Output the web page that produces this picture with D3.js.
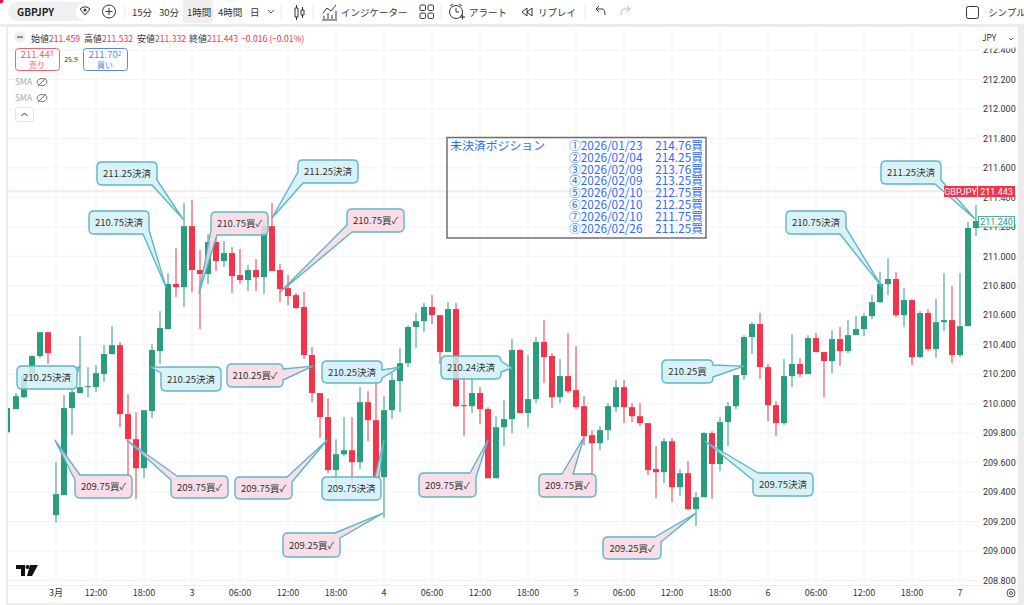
<!DOCTYPE html>
<html>
<head>
<meta charset="utf-8">
<script src="https://cdn.jsdelivr.net/npm/d3@7"></script>
<style>
  html, body { margin: 0; padding: 0; background: #fff; overflow: hidden; }
  text { font-family: "Noto Sans CJK JP", Roboto, sans-serif; }
</style>
</head>
<body>
<svg id="chart" width="1024" height="605"></svg>
<script>
'use strict';

// 1 hour candles
var opens = [209.806,209.963,210.044,210.180,210.323,210.485,209.243,209.379,209.970,210.072,210.112,210.112,210.201,210.337,210.397,209.929,209.759,209.562,209.950,210.357,210.506,210.812,210.791,211.205,210.907,210.880,211.097,210.968,211.022,210.873,210.839,210.907,210.859,211.205,210.907,210.784,210.737,210.656,210.330,210.072,209.909,209.549,209.657,209.684,209.603,210.010,209.888,209.501,209.956,210.153,210.275,210.520,210.560,210.656,210.601,210.350,210.642,209.990,209.983,210.072,209.963,209.494,209.840,209.895,210.364,209.936,210.031,210.418,210.323,210.044,210.187,210.092,209.983,209.786,209.732,209.820,209.976,210.112,209.976,209.915,209.868,209.556,209.535,209.745,209.433,209.528,209.284,209.365,209.800,209.590,209.875,209.983,210.194,210.452,210.540,210.248,209.990,209.868,210.187,210.269,210.201,210.445,210.350,210.289,210.438,210.357,210.465,210.506,210.594,210.689,210.812,210.846,210.601,210.703,210.316,210.615,210.370,210.553,210.567,210.330,210.526,211.192];
var highs = [209.970,210.072,210.187,210.330,210.485,210.485,209.603,210.058,210.160,210.458,210.248,210.262,210.397,210.526,210.418,210.065,209.943,209.956,210.404,210.628,210.886,211.056,211.362,211.382,211.043,211.151,211.130,211.104,211.063,211.050,210.941,210.981,211.246,211.362,210.947,210.873,210.751,210.757,210.384,210.072,210.037,209.759,209.909,209.909,210.112,210.085,210.167,210.051,210.207,210.377,210.533,210.615,210.683,210.737,210.601,210.689,210.683,210.187,210.167,210.112,209.976,209.915,210.024,210.438,210.370,210.330,210.452,210.567,210.343,210.303,210.479,210.391,210.051,209.820,209.847,210.003,210.160,210.160,210.003,210.003,209.868,209.711,209.766,209.766,209.556,209.610,209.399,209.807,209.813,209.909,210.010,210.194,210.465,210.553,210.615,210.269,210.017,210.303,210.472,210.309,210.465,210.479,210.350,210.499,210.520,210.567,210.594,210.615,210.737,210.893,210.988,210.893,210.784,210.710,210.628,210.642,210.710,210.886,210.798,210.886,211.233,211.348];
var lows = [209.806,209.963,210.037,210.173,210.309,210.269,209.195,209.379,209.786,210.072,210.044,210.078,210.146,210.330,209.840,209.515,209.352,209.494,209.902,210.269,210.506,210.723,210.656,210.757,210.506,210.812,210.900,210.927,210.751,210.812,210.764,210.764,210.744,210.900,210.689,210.669,210.642,210.303,210.010,209.766,209.528,209.447,209.644,209.447,209.556,209.745,209.494,209.223,209.895,209.943,210.248,210.377,210.485,210.540,210.269,210.350,209.976,209.779,209.936,209.861,209.494,209.494,209.711,209.800,209.936,209.840,210.003,210.139,209.970,210.003,210.072,209.963,209.718,209.494,209.684,209.752,209.943,209.868,209.875,209.847,209.515,209.359,209.460,209.331,209.372,209.277,209.168,209.365,209.352,209.542,209.711,209.963,210.160,210.337,210.167,209.881,209.779,209.854,210.112,210.180,210.201,210.350,210.044,210.207,210.255,210.343,210.465,210.458,210.574,210.683,210.737,210.588,210.520,210.262,210.309,210.357,210.309,210.492,210.276,210.316,210.526,211.138];
var closes = [209.970,210.051,210.187,210.323,210.485,210.343,209.386,209.970,210.078,210.112,210.119,210.207,210.337,210.397,209.929,209.759,209.562,209.956,210.364,210.513,210.812,210.791,211.205,210.907,210.880,211.097,210.968,211.022,210.866,210.839,210.907,210.859,211.205,210.900,210.778,210.730,210.649,210.330,210.072,209.909,209.549,209.657,209.684,209.603,210.010,209.888,209.494,209.956,210.160,210.275,210.520,210.560,210.656,210.601,210.350,210.642,209.983,209.983,210.072,209.963,209.494,209.840,209.895,210.364,209.936,210.031,210.418,210.316,210.044,210.187,210.085,209.976,209.779,209.732,209.820,209.983,210.112,209.976,209.915,209.868,209.549,209.535,209.745,209.433,209.528,209.284,209.365,209.800,209.590,209.875,209.983,210.194,210.452,210.540,210.248,209.990,209.868,210.187,210.269,210.201,210.445,210.350,210.289,210.438,210.357,210.465,210.506,210.594,210.689,210.812,210.846,210.601,210.703,210.316,210.615,210.370,210.553,210.567,210.330,210.526,211.192,211.240];

var lastPrice = 211.443;
var priceTicks = [212.4,212.2,212.0,211.8,211.6,211.4,211.2,211.0,210.8,210.6,210.4,210.2,210.0,209.8,209.6,209.4,209.2,209.0,208.8];
var timeLabels = ['3月','12:00','18:00','3','06:00','12:00','18:00','4','06:00','12:00','18:00','5','06:00','12:00','18:00','6','06:00','12:00','18:00','7'];
var timeBars = [6,11,17,23,29,35,41,47,53,59,65,71,77,83,89,95,101,107,113,119];

var positionRows = ['①2026/01/23','②2026/02/04','③2026/02/09','④2026/02/09','⑤2026/02/10','⑥2026/02/10','⑦2026/02/10','⑧2026/02/26'];
var positionPrices = ['214.76買','214.25買','213.76買','213.25買','212.75買','212.25買','211.75買','211.25買'];

var noteLabels = ['211.25決済','210.75決済','210.25決済','210.25決済','211.25決済','210.75買✓','210.75買✓','210.25買✓','210.25決済','209.75買✓','209.75買✓','209.75買✓','209.75決済','209.25買✓','210.24決済','209.75買✓','209.75買✓','210.25買','209.75決済','209.25買✓','210.75決済','211.25決済'];
var noteBars = [21.875,19.75,9,17.875,33,23.875,34,38.125,49,5.875,14.875,39.875,47,46.875,63,60,72,92,87.125,86,109.25,120.875];
var notePrices = [211.253,210.791,210.255,210.248,211.260,210.751,210.757,210.255,210.248,209.752,209.752,209.752,209.752,209.257,210.241,209.752,209.773,210.255,209.745,209.257,210.791,211.253];
// callout boxes: x, y, w, h, then the two points where the tail leaves the box (clockwise)
var noteBoxes = [
  [97,162,60,23, 157,180, 152,185],
  [89,211,60,23, 149,230, 143,234],
  [17,366,60,23, 77,368, 77,374],
  [161,367,60,24, 161,373, 170,367],
  [298,160,60,23, 303,183, 298,172],
  [211,212,57,23, 217,235, 211,230],
  [347,209,57,23, 352,232, 347,225],
  [227,364,56,23, 283,369, 283,380],
  [322,361,60,22, 382,370, 382,378],
  [75,475,57,23, 75,480, 80,475],
  [171,476,57,22, 171,480, 177,476],
  [235,477,57,22, 287,477, 292,482],
  [322,477,59,23, 375,477, 379,477],
  [283,533,57,24, 335,533, 340,538],
  [441,356,60,23, 501,361, 501,372],
  [419,473,57,24, 470,473, 476,477],
  [539,474,57,23, 562,474, 573,474],
  [662,360,51,23, 713,365, 713,377],
  [753,473,60,23, 753,480, 758,473],
  [603,537,58,22, 655,537, 661,542],
  [786,211,60,23, 846,228, 840,234],
  [881,161,60,23, 941,180, 935,184]
];

var GREEN = '#2a9d7f', RED = '#f23349', BLUE = '#2f6bff', GRID = '#f1f3f6';
var plotLeft = 8, plotRight = 978, plotTop = 27, plotBottom = 585;

var svg = d3.select('#chart');
var xScale = d3.scaleLinear().domain([0, opens.length - 1]).range([8, 976]);
var yScale = d3.scaleLinear().domain([212, 209]).range([109, 551]);

// grid
var grid = svg.append('g');
grid.selectAll('.h').data(priceTicks).enter().append('line')
  .attr('x1', plotLeft).attr('x2', plotRight)
  .attr('y1', function(d){ return yScale(d); }).attr('y2', function(d){ return yScale(d); })
  .attr('stroke', GRID);
grid.selectAll('.v').data(timeBars).enter().append('line')
  .attr('x1', function(d){ return xScale(d); }).attr('x2', function(d){ return xScale(d); })
  .attr('y1', plotTop).attr('y2', plotBottom)
  .attr('stroke', GRID);

// last price line
svg.append('line')
  .attr('x1', plotLeft).attr('x2', plotRight)
  .attr('y1', yScale(lastPrice)).attr('y2', yScale(lastPrice))
  .attr('stroke', '#fbd5d9').attr('stroke-width', 1);

// candles
var plot = svg.append('g');
var candles = plot.selectAll('.candle').data(d3.range(opens.length)).enter().append('g');
candles.append('line')
  .attr('x1', function(i){ return xScale(i); })
  .attr('x2', function(i){ return xScale(i); })
  .attr('y1', function(i){ return yScale(highs[i]); })
  .attr('y2', function(i){ return yScale(lows[i]); })
  .attr('stroke', function(i){ return closes[i] >= opens[i] ? GREEN : RED; })
  .attr('stroke-width', 1);
candles.append('rect')
  .attr('x', function(i){ return Math.max(xScale(i) - 3, plotLeft); })
  .attr('width', function(i){ return xScale(i) - 3 < plotLeft ? 2 : 6; })
  .attr('y', function(i){ return yScale(Math.max(opens[i], closes[i])); })
  .attr('height', function(i){ return Math.max(1, Math.abs(yScale(opens[i]) - yScale(closes[i]))); })
  .attr('fill', function(i){ return closes[i] >= opens[i] ? GREEN : RED; });

// open positions table
svg.append('rect').attr('x', 447).attr('y', 137.5).attr('width', 259).attr('height', 100.5)
  .attr('fill', 'none').attr('stroke', '#6f6f6f').attr('stroke-width', 1.5);
svg.append('text').attr('x', 450).attr('y', 150).attr('fill', BLUE)
  .attr('font-size', 11.9).text('未決済ポジション');
svg.selectAll('.posRow').data(positionRows).enter().append('text')
  .attr('x', 569).attr('y', function(d, i){ return 149.8 + i * 11.87; })
  .attr('fill', BLUE).attr('font-size', 11.8).text(function(d){ return d; });
svg.selectAll('.posPrice').data(positionPrices).enter().append('text')
  .attr('x', 703).attr('y', function(d, i){ return 149.8 + i * 11.87; })
  .attr('text-anchor', 'end').attr('fill', BLUE).attr('font-size', 11.8).text(function(d){ return d; });

// right axis
svg.append('g').selectAll('text').data(priceTicks).enter().append('text')
  .attr('x', 983).attr('y', function(d){ return yScale(d) + 3.2; })
  .attr('fill', '#333').attr('font-size', 9).style('font-family', 'Roboto')
  .text(function(d){ return d.toFixed(3); });

// callout outline with its tail, walking the box clockwise from the second tail point to the first
function calloutPath(b, tip) {
  var x0 = b[0], y0 = b[1], w = b[2], h = b[3], x1 = x0 + w, y1 = y0 + h, r = 5;
  var per = 2 * (w + h);
  function pos(x, y) {
    if (y === y0 && x >= x0 && x <= x1) return x - x0;
    if (x === x1) return w + (y - y0);
    if (y === y1) return w + h + (x1 - x);
    return 2 * w + h + (y1 - y);
  }
  var corners = [
    { t: w, d: 'L' + (x1 - r) + ',' + y0 + 'Q' + x1 + ',' + y0 + ' ' + x1 + ',' + (y0 + r) },
    { t: w + h, d: 'L' + x1 + ',' + (y1 - r) + 'Q' + x1 + ',' + y1 + ' ' + (x1 - r) + ',' + y1 },
    { t: 2 * w + h, d: 'L' + (x0 + r) + ',' + y1 + 'Q' + x0 + ',' + y1 + ' ' + x0 + ',' + (y1 - r) },
    { t: per, d: 'L' + x0 + ',' + (y0 + r) + 'Q' + x0 + ',' + y0 + ' ' + (x0 + r) + ',' + y0 }
  ];
  var start = pos(b[6], b[7]), end = (pos(b[4], b[5]) - start + per) % per;
  var walk = corners.map(function(c){ return { off: (c.t - start + per) % per, d: c.d }; })
    .filter(function(c){ return c.off < end; })
    .sort(function(a, c){ return a.off - c.off; });
  return 'M' + b[6] + ',' + b[7] + walk.map(function(c){ return c.d; }).join('') +
    'L' + b[4] + ',' + b[5] + 'L' + tip[0] + ',' + tip[1] + 'Z';
}

var notes = svg.append('g').selectAll('g').data(noteLabels).enter().append('g');
notes.append('path')
  .attr('d', function(d, i){ return calloutPath(noteBoxes[i], [xScale(noteBars[i]), yScale(notePrices[i])]); })
  .attr('fill', function(d){ return d.indexOf('✓') >= 0 ? '#f9d8e3' : '#d2f0f6'; })
  .attr('fill-opacity', 0.85)
  .attr('stroke', '#5db5c8').attr('stroke-width', 1.4).attr('stroke-linejoin', 'round');
notes.append('text')
  .attr('x', function(d, i){ return noteBoxes[i][0] + noteBoxes[i][2] / 2; })
  .attr('y', function(d, i){ return noteBoxes[i][1] + noteBoxes[i][3] / 2 + 3.5; })
  .attr('text-anchor', 'middle').attr('fill', '#333').attr('font-size', 9.5)
  .text(function(d){ return d; });

// price badges
svg.append('rect').attr('x', 944).attr('y', 186).attr('width', 33).attr('height', 11).attr('fill', RED);
svg.append('rect').attr('x', 978).attr('y', 186).attr('width', 37).attr('height', 11).attr('fill', RED);
svg.append('text').attr('x', 960.5).attr('y', 194.5).attr('text-anchor', 'middle').attr('fill', '#fff')
  .attr('font-size', 9).style('font-family', 'Roboto').text('GBPJPY');
svg.append('text').attr('x', 996.5).attr('y', 194.5).attr('text-anchor', 'middle').attr('fill', '#fff')
  .attr('font-size', 9).style('font-family', 'Roboto').text(lastPrice.toFixed(3));
svg.append('rect').attr('x', 978.5).attr('y', 216.5).attr('width', 36).attr('height', 10.5)
  .attr('fill', '#fff').attr('stroke', GREEN).attr('stroke-width', 0.8);
svg.append('text').attr('x', 996.5).attr('y', 225).attr('text-anchor', 'middle').attr('fill', GREEN)
  .attr('font-size', 9).style('font-family', 'Roboto').text(closes[closes.length - 1].toFixed(3));

// time axis
svg.append('g').selectAll('text').data(timeLabels).enter().append('text')
  .attr('x', function(d, i){ return xScale(timeBars[i]); }).attr('y', 596)
  .attr('text-anchor', 'middle').attr('fill', '#333').attr('font-size', 9)
  .text(function(d){ return d; });
svg.append('circle').attr('cx', 1011).attr('cy', 593).attr('r', 4).attr('fill', 'none').attr('stroke', '#555');
svg.append('circle').attr('cx', 1011).attr('cy', 593).attr('r', 1.5).attr('fill', 'none').attr('stroke', '#555');

// frame strips
svg.append('rect').attr('x', 0).attr('y', 24).attr('width', 1024).attr('height', 3).attr('fill', '#ececec');
svg.append('rect').attr('x', 6).attr('y', 27).attr('width', 2).attr('height', 578).attr('fill', '#ececec');
svg.append('rect').attr('x', 1018).attr('y', 27).attr('width', 6).attr('height', 578).attr('fill', '#ececec');
svg.append('rect').attr('x', 6).attr('y', 603).attr('width', 1018).attr('height', 2).attr('fill', '#ececec');
svg.append('line').attr('x1', 8).attr('x2', 1018).attr('y1', 585.5).attr('y2', 585.5).attr('stroke', '#eef0f3');

// tradingview logo
svg.append('path').attr('transform', 'translate(16,565)').attr('fill', '#111')
  .attr('d', 'M0,0H9V11H5V4H0ZM14,0H22L16,11H11Z');
svg.append('circle').attr('cx', 27.5).attr('cy', 567).attr('r', 2).attr('fill', '#111');

// legend
svg.append('circle').attr('cx', 20).attr('cy', 37).attr('r', 5.5).attr('fill', '#eceef2');
svg.append('rect').attr('x', 17).attr('y', 36.5).attr('width', 6).attr('height', 1.2).attr('fill', '#555');
var legendX = [31, 84, 137, 189], legendNames = ['始値','高値','安値','終値'], legendValues = ['211.459','211.532','211.332','211.443'];
legendNames.forEach(function(name, i){
  var t = svg.append('text').attr('x', legendX[i]).attr('y', 41.5).attr('font-size', 9).attr('fill', '#333');
  t.append('tspan').text(name);
  t.append('tspan').attr('fill', RED).attr('font-size', 8.6).text(legendValues[i]);
});
svg.append('text').attr('x', 241).attr('y', 41.5).attr('font-size', 8.6).attr('fill', RED).text('−0.016 (−0.01%)');

function tradeBox(x, colour, value, small, label) {
  svg.append('rect').attr('x', x + 0.5).attr('y', 48.5).attr('width', 44).attr('height', 22).attr('rx', 3)
    .attr('fill', '#fff').attr('stroke', colour).attr('stroke-width', 1);
  var t = svg.append('text').attr('x', x + 22).attr('y', 58).attr('text-anchor', 'middle')
    .attr('fill', colour).attr('font-size', 9.5);
  t.append('tspan').text(value);
  t.append('tspan').attr('font-size', 6.5).attr('dy', -2).text(small);
  svg.append('text').attr('x', x + 22).attr('y', 68).attr('text-anchor', 'middle')
    .attr('fill', colour).attr('font-size', 8).text(label);
}
tradeBox(15, '#f0606f', '211.44', '3', '売り');
tradeBox(83, '#5b85f5', '211.70', '2', '買い');
svg.append('text').attr('x', 71).attr('y', 62).attr('text-anchor', 'middle').attr('font-size', 7).attr('fill', '#333').text('25.9');

[82, 98].forEach(function(y){
  svg.append('text').attr('x', 15).attr('y', y + 3).attr('font-size', 8.5).attr('fill', '#a8abb3').text('SMA');
  svg.append('ellipse').attr('cx', 42).attr('cy', y).attr('rx', 5).attr('ry', 3.5).attr('fill', 'none').attr('stroke', '#777');
  svg.append('line').attr('x1', 38).attr('y1', y + 4).attr('x2', 46).attr('y2', y - 4).attr('stroke', '#777');
});
svg.append('rect').attr('x', 15.5).attr('y', 107.5).attr('width', 18).attr('height', 14).attr('rx', 2)
  .attr('fill', '#fff').attr('stroke', '#e3e5ea');
svg.append('path').attr('d', 'M21.5,116L24.5,113L27.5,116').attr('fill', 'none').attr('stroke', '#333');

// JPY selector, sits over the top price label
svg.append('rect').attr('x', 980).attr('y', 29).attr('width', 35).attr('height', 19).attr('rx', 2).attr('fill', '#fff').attr('stroke', '#f2f3f5');
svg.append('text').attr('x', 982).attr('y', 41).attr('font-size', 8.5).attr('fill', '#333').text('JPY');
svg.append('path').attr('d', 'M1009,38L1011,40L1013,38').attr('fill', 'none').attr('stroke', '#555');

// toolbar
var bar = svg.append('g');
bar.append('circle').attr('cx', 0).attr('cy', 0).attr('r', 3.5).attr('fill', '#e6192e');
bar.append('rect').attr('x', 8).attr('y', 2).attr('width', 85).attr('height', 19).attr('rx', 9.5).attr('fill', '#f0f0f2');
bar.append('circle').attr('cx', 85).attr('cy', 11.5).attr('r', 9).attr('fill', '#fff');
bar.append('path').attr('d', 'M80,9L83,7H87L90,9L85,15Z').attr('fill', 'none').attr('stroke', '#333').attr('stroke-width', 1);
bar.append('circle').attr('cx', 85).attr('cy', 10).attr('r', 1.5).attr('fill', '#333');
bar.append('text').attr('x', 17).attr('y', 15.5).attr('font-size', 10).attr('font-weight', 700).attr('fill', '#222').text('GBPJPY');
bar.append('circle').attr('cx', 109).attr('cy', 11.5).attr('r', 6.5).attr('fill', 'none').attr('stroke', '#333');
bar.append('path').attr('d', 'M105.5,11.5H112.5M109,8V15').attr('stroke', '#333');
[125, 281, 313, 441, 585].forEach(function(x){
  bar.append('line').attr('x1', x).attr('x2', x).attr('y1', 4).attr('y2', 19).attr('stroke', '#eaeaea');
});
bar.append('rect').attr('x', 183).attr('y', 0).attr('width', 30).attr('height', 23).attr('rx', 3).attr('fill', '#efefef');
var toolX = [132, 159, 187, 218, 250, 341, 469, 538, 988], toolLabels = ['15分','30分','1時間','4時間','日','インジケーター','アラート','リプレイ','シンプル'];
toolLabels.forEach(function(label, i){
  bar.append('text').attr('x', toolX[i]).attr('y', 16).attr('font-size', 9.5).attr('fill', '#333').text(label);
});
bar.append('path').attr('d', 'M268,10L271,13L274,10').attr('fill', 'none').attr('stroke', '#555');
// candle icon
bar.append('path').attr('fill', 'none').attr('stroke', '#333')
  .attr('d', 'M295,8h3v9h-3zM296.5,5v3M296.5,17v3M301,10h3v5h-3zM302.5,7v3M302.5,15v3');
// indicator icon
bar.append('path').attr('fill', 'none').attr('stroke', '#333')
  .attr('d', 'M323,13L327,8L331,11L336,5M324,19v-3M328,19v-6M332,19v-4M336,19v-8M322,20H337');
// layout icon
[[420,5],[428,5],[420,13],[428,13]].forEach(function(p){
  bar.append('rect').attr('x', p[0]).attr('y', p[1]).attr('width', 5.5).attr('height', 5.5).attr('rx', 1.2)
    .attr('fill', 'none').attr('stroke', '#333');
});
// alert icon
bar.append('circle').attr('cx', 456).attr('cy', 12).attr('r', 6.5).attr('fill', 'none').attr('stroke', '#333');
bar.append('path').attr('fill', 'none').attr('stroke', '#333').attr('d', 'M456,8v4h3M450,6l3,-2M459,4l3,2M460,17h5M462.5,14.5v5');
// replay icon
bar.append('path').attr('fill', 'none').attr('stroke', '#333').attr('d', 'M527,8L522,12L527,16ZM532,8L527,12L532,16Z');
// undo, redo
bar.append('path').attr('fill', 'none').attr('stroke', '#333').attr('d', 'M596,9L599,6M596,9L599,12M596,9H602Q605,9 605,15');
bar.append('path').attr('fill', 'none').attr('stroke', '#bbb').attr('d', 'M630,9L627,6M630,9L627,12M630,9H624Q621,9 621,15');
bar.append('rect').attr('x', 966.5).attr('y', 6.5).attr('width', 12).attr('height', 12).attr('rx', 2).attr('fill', 'none').attr('stroke', '#333');
</script>
</body>
</html>
